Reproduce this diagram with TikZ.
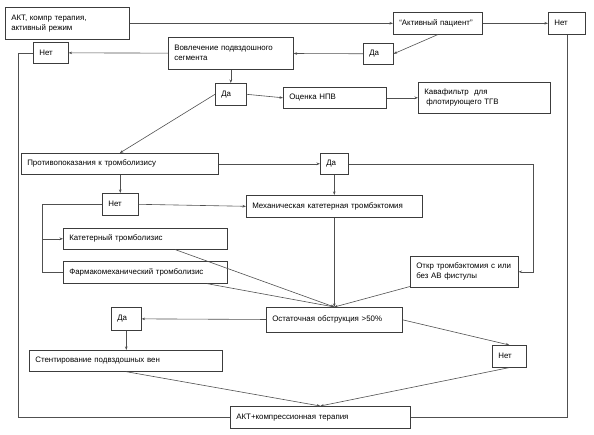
\documentclass[tikz,border=0pt]{standalone}
\usepackage{fontspec}
\setmainfont{Liberation Sans}
\usetikzlibrary{arrows.meta, positioning, calc}
\definecolor{boxgray}{RGB}{60,60,60}
\definecolor{linegray}{RGB}{80,80,80}

\begin{document}
\begin{tikzpicture}[x=1pt, y=-1pt,
  flowbox/.style={draw=boxgray, line width=0.6pt, anchor=north west, align=left, inner xsep=6pt, inner ysep=0pt, font=\fontsize{7.9}{10}\selectfont},
  arr/.style={draw=linegray, line width=0.6pt, -{Stealth[length=3.5pt, width=2.6pt]}},
  link/.style={draw=linegray, line width=0.6pt}
]
  \useasboundingbox (0,0) rectangle (594,434);

  % Top row
  \node[flowbox, text width=112pt, minimum height=32pt] (akt) at (5,7) {АКТ, компр терапия,\\активный режим};
  \node[flowbox, text width=77pt, minimum height=22pt] (aktiv) at (393,12) {\mbox{“Активный пациент”}};
  \node[flowbox, text width=25pt, minimum height=22pt] (net1) at (548,12) {Нет};

  % Iliac segment
  \node[flowbox, text width=18pt, minimum height=21pt] (da1) at (363,43) {Да};
  \node[flowbox, text width=113pt, minimum height=32pt] (vovl) at (168,37) {Вовлечение подвздошного\\сегмента};
  \node[flowbox, text width=23pt, minimum height=21pt] (net2) at (33,42) {Нет};
  \node[flowbox, text width=19pt, minimum height=22pt] (da2) at (215,83) {Да};
  \node[flowbox, text width=91pt, minimum height=21pt] (npv) at (283,87) {Оценка НПВ};
  \node[flowbox, text width=120pt, minimum height=31pt] (kava) at (418,82) {Кавафильтр~ для\\\hspace{2pt}флотирующего ТГВ};

  % Thrombolysis
  \node[flowbox, text width=185pt, minimum height=21pt] (protiv) at (21,153) {Противопоказания к тромболизису};
  \node[flowbox, text width=16pt, minimum height=21pt] (da3) at (320,153) {Да};
  \node[flowbox, text width=24pt, minimum height=22pt] (net3) at (102,193) {Нет};
  \node[flowbox, text width=164pt, minimum height=22pt] (mech) at (246,195) {Механическая катетерная тромбэктомия};
  \node[flowbox, text width=152pt, minimum height=21pt] (kat) at (63,228) {Катетерный тромболизис};
  \node[flowbox, text width=152pt, minimum height=22pt] (farm) at (63,261) {Фармакомеханический тромболизис};
  \node[flowbox, text width=96pt, minimum height=31pt] (otkr) at (410,256) {\mbox{Откр тромбэктомия с или}\\без АВ фистулы};

  % Residual obstruction
  \node[flowbox, text width=124pt, minimum height=25pt] (ost) at (266,307) {Остаточная обструкция >50\%};
  \node[flowbox, text width=18pt, minimum height=23pt] (da4) at (111,307) {Да};
  \node[flowbox, text width=22pt, minimum height=22pt] (net4) at (492,345) {Нет};
  \node[flowbox, text width=181pt, minimum height=21pt] (stent) at (29,350) {Стентирование подвздошных вен};
  \node[flowbox, text width=168pt, minimum height=22pt] (fin) at (230,406) {АКТ+компрессионная терапия};

  % Connectors
  \draw[arr] (akt) -- (aktiv);
  \draw[arr] (aktiv) -- (net1);
  \draw[arr] (aktiv.south) -- (da1.east);
  \draw[arr] (da1) -- (vovl);
  \draw[arr] (vovl) -- (net2);
  \draw[arr] (vovl) -- (da2);
  \draw[arr] (da2.east) -- (npv.west);
  \draw[arr] (npv) -- (kava);
  \draw[arr] (da2.west) -- (protiv.north);
  \draw[arr] (protiv.south -| net3) -- (net3);
  \draw[arr] (protiv) -- (da3);
  \draw[arr] (net3.east) -- (mech.west);
  \draw[arr] (da3) -- (mech);
  \draw[arr] (da3.east) -- ++(185,0) |- (otkr.east);
  \draw[link] (net3.west) -- ++(-60,0) coordinate (brk) |- (farm.west);
  \draw[arr] (brk |- kat.west) -- (kat.west);
  \foreach \src in {kat, farm, mech, otkr}
    \draw[arr] (\src) -- (ost.north);
  \draw[arr] (ost) -- (da4);
  \draw[arr] (da4.south) -- (da4.south |- stent.north);
  \draw[arr] (ost.east) -- (net4.north);
  \draw[arr] (net4.south) -- (fin.north);
  \draw[arr] (stent.south) -- (fin.north);
  \draw[link] (net2.west) -- ++(-15,0) |- (fin.west);
  \draw[link] (net1.south) |- (fin.east);
\end{tikzpicture}
\end{document}
